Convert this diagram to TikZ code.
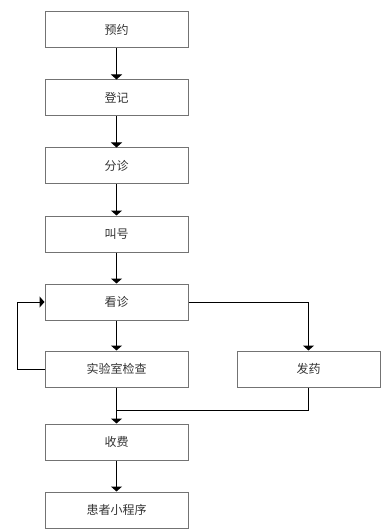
\documentclass[tikz,border=0pt]{standalone}
\usepackage{fontspec}
\newfontfamily\cjk{Noto Sans CJK SC}
\usetikzlibrary{arrows.meta}

\begin{document}
\begin{tikzpicture}[x=1pt,y=-1pt,>={Triangle[length=5pt,width=11pt]},line width=1pt,
  font=\cjk\fontsize{12}{14}\selectfont,
  box/.style={draw=black!55,text=black!80,minimum width=143pt,minimum height=36pt,inner sep=0pt}]
\useasboundingbox (0,0) rectangle (381,529);
\node[box] (yuyue) at (116.5,30) {预约};
\node[box] (dengji) at (116.5,98) {登记};
\node[box] (fenzhen) at (116.5,166) {分诊};
\node[box] (jiaohao) at (116.5,234) {叫号};
\node[box] (kanzhen) at (116.5,302) {看诊};
\node[box] (shiyan) at (116.5,369) {实验室检查};
\node[box] (fayao) at (308.5,369) {发药};
\node[box] (shoufei) at (116.5,442) {收费};
\node[box] (xiaocx) at (116.5,510) {患者小程序};
\coordinate (huihe) at (116.5,410);
\draw[->] (yuyue) -- (dengji);
\draw[->] (dengji) -- (fenzhen);
\draw[->] (fenzhen) -- (jiaohao);
\draw[->] (jiaohao) -- (kanzhen);
\draw[->] (kanzhen) -- (shiyan);
\draw[->] (shiyan.west) -- ++(-27,0) |- (kanzhen.west);
\draw[->] (kanzhen.east) -| (fayao.north);
\draw[->] (shiyan) -- (shoufei);
\draw (fayao.south) |- (huihe);
\draw[->] (shoufei) -- (xiaocx);
\end{tikzpicture}
\end{document}
